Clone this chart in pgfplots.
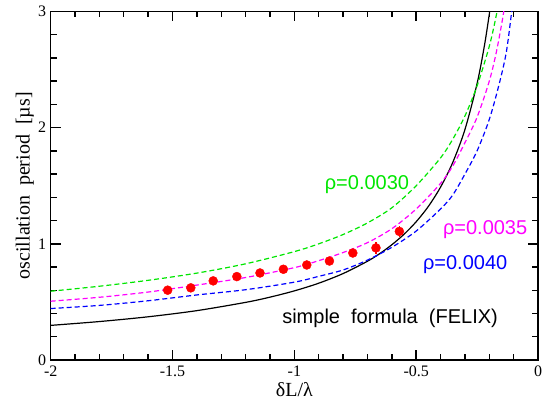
\documentclass[border=0pt]{standalone}
\usepackage{pgfplots}
\pgfplotsset{compat=1.18}
\usepackage{fontspec}
\setmainfont{Liberation Serif}
\newfontfamily\arial{Liberation Sans}
\definecolor{cgreen}{RGB}{0,230,0}
\definecolor{cmag}{RGB}{255,0,255}
\definecolor{cblue}{RGB}{0,0,255}
\definecolor{cred}{RGB}{255,0,0}
\begin{document}
\begin{tikzpicture}
\begin{axis}[
  scale only axis, width=487.3pt, height=348.5pt,
  xmin=-2, xmax=0, ymin=0, ymax=3,
  xtick={-2,-1.5,-1,-0.5,0}, ytick={0,1,2,3},
  minor x tick num=4, minor y tick num=4,
  tick align=inside, xtick pos=both, ytick pos=both,
  major tick length=10pt, minor tick length=6pt,
  axis line style={line width=1.6pt},
  every tick/.style={line width=1.4pt, black},
  /pgf/number format/assume math mode=true,
  tick label style={font=\fontsize{16}{16}\selectfont},
  yticklabel style={xshift=-1pt},
  xticklabel style={yshift=-2pt},
  xlabel={δL/λ},
  ylabel={oscillation\ \ period\ \ [µs]},
  label style={font=\fontsize{20}{20}\selectfont},
  xlabel style={at={(axis description cs:0.5,-0.106)}, anchor=base},
  ylabel style={at={(axis description cs:-0.053,0.5)}, anchor=center},
  clip=true,
]
% simple formula (FELIX)
\addplot[black, line width=1.2pt, smooth] coordinates {
(-2,0.298) (-1.8,0.331) (-1.6,0.372) (-1.4,0.425) (-1.2,0.496) (-1.1,0.541) (-1.0,0.595)
(-0.9,0.661) (-0.8,0.744) (-0.7,0.850) (-0.65,0.915) (-0.6,0.992) (-0.55,1.082) (-0.5,1.19)
(-0.45,1.322) (-0.4,1.488) (-0.35,1.70) (-0.3,1.983) (-0.25,2.38) (-0.22,2.705) (-0.2,2.975) (-0.19,3.13)};
% rho = 0.0030
\addplot[cgreen, line width=1.2pt, dash pattern=on 5pt off 3pt, smooth] coordinates {
(-2,0.592) (-1.8,0.635) (-1.6,0.686) (-1.4,0.748) (-1.2,0.828) (-1.0,0.933) (-0.9,1.0)
(-0.8,1.08) (-0.7,1.18) (-0.6,1.31) (-0.5,1.50) (-0.4,1.74) (-0.35,1.90) (-0.3,2.10)
(-0.25,2.36) (-0.2,2.70) (-0.17,2.98) (-0.163,3.1)};
% rho = 0.0035
\addplot[cmag, line width=1.2pt, dash pattern=on 5pt off 3pt, smooth] coordinates {
(-2,0.506) (-1.8,0.54) (-1.6,0.585) (-1.4,0.645) (-1.2,0.71) (-1.0,0.795) (-0.9,0.855)
(-0.8,0.925) (-0.7,1.01) (-0.6,1.13) (-0.5,1.30) (-0.4,1.52) (-0.35,1.67) (-0.3,1.87)
(-0.25,2.09) (-0.2,2.40) (-0.17,2.66) (-0.142,2.98) (-0.135,3.12)};
% rho = 0.0040
\addplot[cblue, line width=1.2pt, dash pattern=on 5pt off 3pt, smooth] coordinates {
(-2,0.443) (-1.8,0.47) (-1.6,0.51) (-1.4,0.56) (-1.2,0.605) (-1.0,0.67) (-0.9,0.72)
(-0.8,0.775) (-0.7,0.86) (-0.6,0.97) (-0.5,1.11) (-0.4,1.30) (-0.35,1.42) (-0.3,1.60)
(-0.25,1.80) (-0.2,2.07) (-0.16,2.37) (-0.13,2.65) (-0.108,3.0) (-0.10,3.15)};
% measured points
\addplot[only marks, mark=*, mark size=4.5pt, color=cred, mark options={fill=cred, draw=cred},
  error bars/.cd, y dir=both, y explicit, error bar style={line width=1.2pt, cred}, error mark=none]
  table[x=x, y=y, y error=e] {
x y e
-1.520 0.601 0
-1.425 0.621 0
-1.333 0.681 0
-1.236 0.718 0
-1.141 0.749 0
-1.045 0.781 0
-0.949 0.818 0
-0.856 0.852 0
-0.760 0.921 0
-0.665 0.965 0.05
-0.569 1.107 0.045
};
\node[font=\arial\fontsize{20}{20}\selectfont, text=cgreen] at (axis cs:-0.702,1.51) {ρ=0.0030};
\node[font=\arial\fontsize{20}{20}\selectfont, text=cmag] at (axis cs:-0.217,1.124) {ρ=0.0035};
\node[font=\arial\fontsize{20}{20}\selectfont, text=cblue] at (axis cs:-0.299,0.824) {ρ=0.0040};
\node[font=\arial\fontsize{20}{20}\selectfont, text=black] at (axis cs:-0.607,0.36) {simple\ \ formula\ \ (FELIX)};
\end{axis}
\pgfresetboundingbox
\path[use as bounding box] ([shift={(-50.7pt,-43pt)}]current axis.south west) rectangle ([shift={(8pt,11.5pt)}]current axis.north east);
\end{tikzpicture}
\end{document}
